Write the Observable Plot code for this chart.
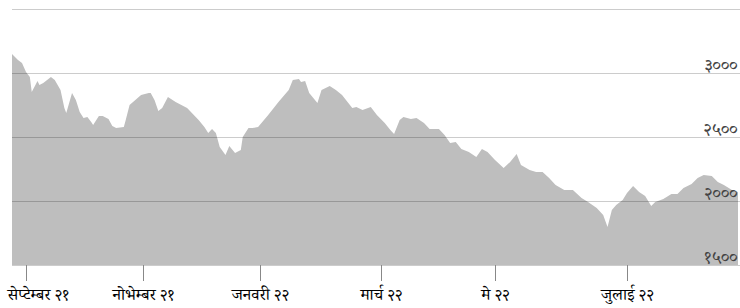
<!DOCTYPE html>
<html>
<head>
<meta charset="utf-8">
<script src="https://cdn.jsdelivr.net/npm/d3@7"></script>
<script src="https://cdn.jsdelivr.net/npm/@observablehq/plot@0.6"></script>
<style>
  html, body { margin: 0; padding: 0; background: #fff; }
  #chart svg g.ylab text { font-size: 18px; }
  #chart svg g.xlab text { font-size: 16.5px; }
</style>
</head>
<body>
<div id="chart"></div>
<script>
const dates = [
  "2021-08-25","2021-08-28","2021-08-30","2021-09-01","2021-09-03","2021-09-04","2021-09-07","2021-09-08","2021-09-10","2021-09-14",
  "2021-09-16","2021-09-19","2021-09-21","2021-09-22","2021-09-25","2021-09-27","2021-09-29","2021-10-01","2021-10-03","2021-10-05",
  "2021-10-06","2021-10-09","2021-10-11","2021-10-14","2021-10-16","2021-10-18","2021-10-22","2021-10-23","2021-10-25","2021-10-28",
  "2021-10-31","2021-11-04","2021-11-05","2021-11-07","2021-11-09","2021-11-11","2021-11-14","2021-11-18","2021-11-24","2021-11-30",
  "2021-12-03","2021-12-05","2021-12-07","2021-12-09","2021-12-11","2021-12-14","2021-12-16","2021-12-19","2021-12-22","2021-12-23",
  "2021-12-26","2021-12-28","2021-12-31","2022-01-05","2022-01-10","2022-01-15","2022-01-17","2022-01-20","2022-01-21","2022-01-23",
  "2022-01-25","2022-01-29","2022-01-31","2022-02-04","2022-02-07","2022-02-10","2022-02-15","2022-02-17","2022-02-20","2022-02-24",
  "2022-02-27","2022-03-03","2022-03-06","2022-03-08","2022-03-11","2022-03-13","2022-03-17","2022-03-20","2022-03-24","2022-03-27",
  "2022-04-01","2022-04-04","2022-04-07","2022-04-10","2022-04-13","2022-04-17","2022-04-21","2022-04-24","2022-04-27","2022-05-01",
  "2022-05-05","2022-05-08","2022-05-11","2022-05-13","2022-05-17","2022-05-20","2022-05-23","2022-05-26","2022-05-29","2022-06-02",
  "2022-06-06","2022-06-10","2022-06-13","2022-06-17","2022-06-20","2022-06-22","2022-06-24","2022-06-26","2022-06-29","2022-07-01",
  "2022-07-04","2022-07-07","2022-07-10","2022-07-13","2022-07-15","2022-07-19","2022-07-23","2022-07-26","2022-07-29","2022-08-02",
  "2022-08-05","2022-08-08","2022-08-12","2022-08-15","2022-08-18","2022-08-22","2022-08-25"
];
const values = [
  3148,3102,3078,3008,2969,2852,2938,2906,2922,2969,
  2945,2867,2727,2688,2844,2789,2695,2648,2656,2617,
  2594,2664,2664,2641,2586,2570,2578,2633,2750,2789,
  2828,2844,2844,2789,2703,2727,2813,2773,2727,2633,
  2578,2531,2563,2531,2422,2359,2430,2375,2398,2500,
  2570,2570,2578,2672,2773,2867,2945,2953,2930,2938,
  2844,2766,2867,2898,2867,2828,2727,2734,2711,2734,
  2672,2609,2555,2523,2633,2656,2641,2648,2609,2563,
  2563,2516,2453,2461,2406,2383,2344,2406,2383,2320,
  2258,2305,2367,2281,2242,2227,2227,2180,2125,2086,
  2086,2023,1992,1945,1891,1797,1930,1969,2008,2063,
  2117,2070,2039,1961,1992,2016,2055,2055,2102,2133,
  2180,2203,2195,2148,2125,2086,2070
];
const xTickDates = ["2021-09-01","2021-11-01","2022-01-01","2022-03-01","2022-05-01","2022-07-01"];
const xTickLabels = ["सेप्टेम्बर २१","नोभेम्बर २१","जनवरी २२","मार्च २२","मे २२","जुलाई २२"];
const yTicks = [1500, 2000, 2500, 3000];
const yTickLabels = ["१५००","२०००","२५००","३०००"];
const gridValues = [1500, 2000, 2500, 3000, 3500];

const data = dates.map((d, i) => ({date: new Date(d), value: values[i]}));
const xTicks = xTickDates.map((d, i) => ({date: new Date(d), label: xTickLabels[i]}));
const yLab = yTicks.map((v, i) => ({value: v, label: yTickLabels[i]}));

const font = "'Noto Serif Devanagari', 'Noto Sans Devanagari', 'Noto Sans', sans-serif";

const chart = Plot.plot({
  width: 740,
  height: 308,
  marginTop: 9,
  marginBottom: 43,
  marginLeft: 12,
  marginRight: 0,
  style: {fontFamily: font, background: "#fff", overflow: "visible"},
  x: {
    type: "utc",
    domain: [new Date("2021-08-25"), new Date("2021-09-01"), new Date("2021-11-01"), new Date("2022-01-01"),
             new Date("2022-03-01"), new Date("2022-05-01"), new Date("2022-07-01"), new Date("2022-08-25")],
    range: [12, 26, 143, 260, 381, 495, 627, 738],
    axis: null
  },
  y: {domain: [1500, 3500], axis: null},
  marks: [
    Plot.areaY(data, {x: "date", y1: 1500, y2: "value", fill: "#bebebe", curve: "linear"}),
    Plot.ruleY(gridValues, {stroke: "#000", strokeOpacity: 0.2, strokeWidth: 1}),
    Plot.ruleX(xTicks, {x: "date", stroke: "#888", strokeWidth: 1, insetTop: 256, insetBottom: -16}),
    Plot.text(yLab, {y: "value", text: "label", frameAnchor: "right", textAnchor: "end", lineAnchor: "bottom",
                     dx: -3, dy: -3, fill: "#444", fontSize: 18, className: "ylab"}),
    Plot.text(xTicks.slice(1), {x: "date", text: "label", frameAnchor: "bottom", lineAnchor: "bottom",
                     dy: 34, fill: "#000", fontSize: 16.5, className: "xlab"}),
    Plot.text(xTicks.slice(0, 1), {x: "date", text: "label", frameAnchor: "bottom", lineAnchor: "bottom",
                     textAnchor: "start", dx: -19, dy: 34, fill: "#000", fontSize: 16.5, className: "xlab"})
  ]
});
document.getElementById("chart").appendChild(chart);
</script>
</body>
</html>
